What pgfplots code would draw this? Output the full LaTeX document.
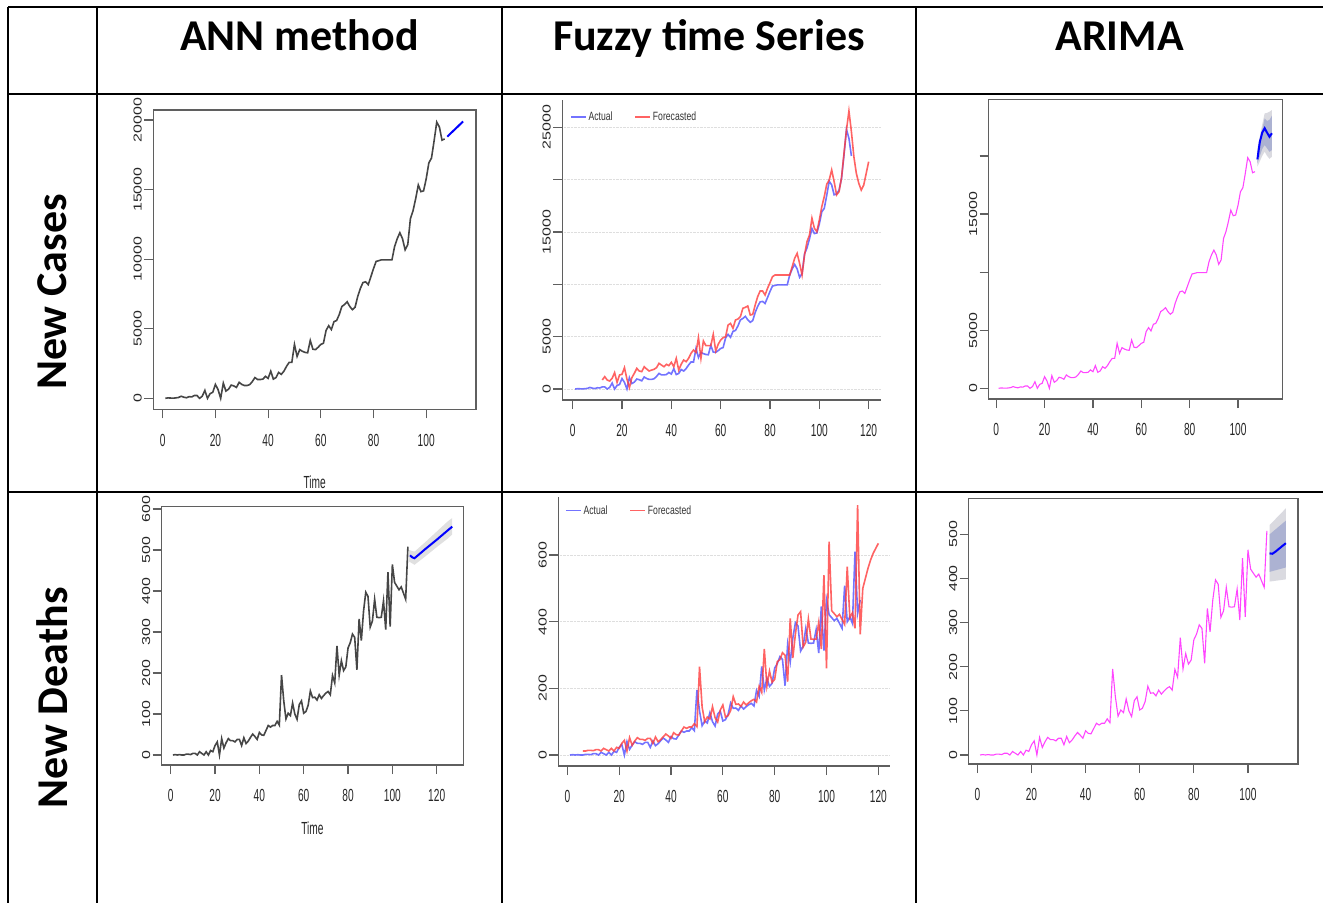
\documentclass[border=0pt]{standalone}
\usepackage{fontspec}
\setmainfont{Liberation Sans}
\newfontfamily\hdr{Carlito}
\usepackage{graphicx}
\usepackage{pgfplots}
\usepackage{pgfplotstable}
\pgfplotsset{compat=1.18}

\definecolor{axgray}{RGB}{95,95,95}
\definecolor{anngray}{RGB}{70,70,70}
\definecolor{pinkline}{RGB}{255,70,255}
\definecolor{fzblue}{RGB}{90,90,255}
\definecolor{fzred}{RGB}{255,60,60}
\definecolor{band95}{RGB}{218,218,224}
\definecolor{band80}{RGB}{172,178,210}

\newcommand\tk{\fontsize{16}{16}\selectfont}
\newcommand\tkx{\fontsize{17.5}{17.5}\selectfont}
\newcommand\hd{\hdr\bfseries\fontsize{44}{48}\selectfont}

% t, new cases, new deaths (1..107 observed; 108..113 shown only in the fuzzy panels)
\pgfplotstableread{
t cases deaths
1 0 0
2 30 1
3 20 0
4 10 1
5 30 0
6 60 0
7 150 2
8 80 2
9 40 1
10 120 4
11 100 4
12 200 0
13 200 8
14 0 4
15 150 0
16 570 8
17 0 0
18 340 11
19 430 8
20 1000 23
21 630 32
22 0 0
23 1090 40
24 520 17
25 660 30
26 950 40
27 890 35
28 780 35
29 1150 32
30 1000 38
31 920 38
32 920 23
33 980 42
34 1200 28
35 1490 34
36 1350 43
37 1350 51
38 1380 45
39 1580 38
40 1430 55
41 1950 49
42 1380 48
43 1490 60
44 1860 72
45 1720 68
46 1950 72
47 2300 72
48 2580 82
49 2580 73
50 3870 195
51 3010 132
52 3500 88
53 3380 102
54 3300 96
55 3270 127
56 4160 100
57 3530 87
58 3500 123
59 3670 132
60 3870 102
61 3960 106
62 4880 121
63 5220 156
64 4940 140
65 5510 141
66 5590 134
67 6020 147
68 6600 138
69 6740 145
70 6940 151
71 6600 155
72 6370 147
73 6540 194
74 7310 176
75 7890 266
76 8320 195
77 8370 230
78 8170 206
79 8740 215
80 9320 261
81 9840 274
82 9890 295
83 9950 287
84 9950 208
85 9950 332
86 9950 279
87 9950 351
88 10900 397
89 11470 387
90 11900 312
91 11470 327
92 10670 380
93 11040 336
94 12900 335
95 13480 336
96 14340 376
97 15330 306
98 14850 446
99 14910 313
100 15770 465
101 16920 421
102 17260 412
103 18500 403
104 19850 410
105 19500 395
106 18550 380
107 18640 508
108 19000 400
109 20130 415
110 22360 395
111 24800 610
112 23950 425
113 22260 465
}\actual

% fuzzy time series forecast, new cases
\pgfplotstableread{
t fc
12 860
13 1180
14 860
15 760
16 1020
17 1560
18 640
19 1340
20 1400
21 2040
22 950
23 130
24 1080
25 1500
26 1970
27 1720
28 1660
29 2130
30 1910
31 1720
32 1810
33 1880
34 2040
35 2450
36 2290
37 2130
38 2360
39 2230
40 2550
41 2130
42 2930
43 1810
44 2360
45 2770
46 2610
47 2930
48 3410
49 3730
50 3500
51 4900
52 2930
53 4590
54 4140
55 4140
56 4140
57 5220
58 3630
59 4270
60 4680
61 4900
62 5000
63 6110
64 6270
65 5800
66 6590
67 6690
68 6910
69 7710
70 7800
71 7930
72 7070
73 7130
74 8030
75 8820
76 9360
77 9360
78 8980
79 9620
80 10160
81 10730
82 10890
83 10890
84 10890
85 10890
86 10890
87 10890
88 10890
89 11690
90 12480
91 12960
92 12000
93 10890
94 12800
95 14080
96 14710
97 16310
98 15350
99 15030
100 16150
101 17420
102 18380
103 19560
104 19970
105 20930
106 19810
107 18540
108 18850
109 20190
110 22520
111 24750
112 26560
113 24590
114 22200
115 20600
116 19650
117 19000
118 19490
119 20600
120 21720
}\fzcases

% fuzzy time series forecast, new deaths
\pgfplotstableread{
t fd
6 12
7 12
8 14
9 14
10 13
11 16
12 16
13 12
14 20
15 16
16 12
17 20
18 12
19 23
20 20
21 35
22 44
23 12
24 52
25 29
26 42
27 52
28 47
29 47
30 44
31 50
32 50
33 35
34 54
35 40
36 46
37 55
38 63
39 57
40 50
41 67
42 61
43 60
44 72
45 84
46 80
47 84
48 84
49 94
50 85
51 265
52 144
53 100
54 114
55 108
56 145
57 112
58 99
59 135
60 150
61 114
62 118
63 133
64 175
65 152
66 153
67 146
68 159
69 150
70 157
71 163
72 167
73 159
74 206
75 188
76 318
77 207
78 252
79 218
80 227
81 280
82 286
83 307
84 299
85 220
86 410
87 291
88 363
89 420
90 430
91 324
92 339
93 408
94 348
95 347
96 348
97 398
98 318
99 540
100 260
101 640
102 433
103 424
104 415
105 422
106 407
107 392
108 565
109 412
110 427
111 380
112 750
113 362
114 500
115 530
116 560
117 585
118 605
119 620
120 635
}\fzdeaths

\pgfplotsset{
  rplot/.style={
    scale only axis, anchor=south west,
    axis line style={draw=axgray, line width=1.4pt},
    tick style={draw=axgray, line width=1.2pt},
    major tick length=9pt, tick align=outside, tick pos=left,
    scaled ticks=false,
    x tick label style={font=\tkx, xscale=0.58, yshift=-12pt, text=black!85},
    y tick label style={font=\tk, rotate=90, anchor=south, yscale=0.72, text=black!85},
    xlabel style={font=\tkx, xscale=0.58, text=black!85,
      at={(axis description cs:0.5,-0.245)}, anchor=center},
  },
  fzplot/.style={
    rplot, axis lines*=left, axis line style={-},
    ymajorgrids, major grid style={densely dotted, black!13, line width=0.9pt},
    legend columns=2,
    legend style={draw=none, fill=none, inner sep=0pt,
      font=\fontsize{12}{12}\selectfont, text=black!80,
      /tikz/every even column/.append style={column sep=20pt}},
    legend image code/.code={\draw[#1, line width=1.4pt] (0pt,0pt) -- (15pt,0pt);},
  },
}

\begin{document}
\begin{tikzpicture}[x=1pt,y=1pt]
\path[use as bounding box] (0,0) rectangle (1323,-903);

% table rules
\begin{scope}[line width=2.5pt]
\draw (8,-7) -- (1323,-7);
\draw (8,-94) -- (1323,-94);
\draw (8,-492) -- (1323,-492);
\draw (8,-7) -- (8,-903);
\draw (97,-7) -- (97,-903);
\draw (502,-7) -- (502,-903);
\draw (916,-7) -- (916,-903);
\end{scope}

\node[anchor=base, font=\hd] at (299.5,-50) {ANN method};
\node[anchor=base, font=\hd] at (709,-50) {Fuzzy time Series};
\node[anchor=base, font=\hd] at (1119.5,-50) {ARIMA};
\node[rotate=90, font=\hd] at (52,-292) {New Cases};
\node[rotate=90, font=\hd] at (52,-698) {New Deaths};

% ANN, new cases
\begin{axis}[rplot, at={(153.3pt,-409.3pt)}, width=322.7pt, height=299.3pt,
  xmin=-3.57, xmax=118.9, ymin=-790, ymax=20718,
  xtick={0,20,40,60,80,100}, xticklabels={0,20,40,60,80,100},
  ytick={0,5000,10000,15000,20000}, yticklabels={0,5000,10000,15000,20000},
  xlabel={Time}]
\addplot[anngray, line width=1.6pt, restrict x to domain=1:107] table[x=t, y=cases] {\actual};
\addplot[blue, line width=2pt] coordinates {(108,18800) (110,19170) (112,19530) (114,19900)};
\end{axis}

% Fuzzy time series, new cases
\begin{axis}[fzplot, at={(562.3pt,-400pt)}, width=318.7pt, height=300pt,
  xmin=-4.2, xmax=125, ymin=-1051, ymax=27608,
  xtick={0,20,40,60,80,100,120}, xticklabels={0,20,40,60,80,100,120},
  ytick={0,5000,10000,15000,20000,25000}, yticklabels={0,5000,,15000,,25000},
  legend style={at={(axis description cs:0.024,0.943)}, anchor=west}]
\addplot[fzblue, opacity=0.85, line width=1.6pt] table[x=t, y=cases] {\actual};
\addplot[fzred, opacity=0.8, line width=1.6pt] table[x=t, y=fc] {\fzcases};
\legend{\scalebox{0.72}[1]{Actual}, \scalebox{0.72}[1]{Forecasted}}
\end{axis}

% ARIMA, new cases
\begin{axis}[rplot, at={(988.7pt,-399pt)}, width=293.6pt, height=299.3pt,
  xmin=-3.1, xmax=118.3, ymin=-921, ymax=24836,
  xtick={0,20,40,60,80,100}, xticklabels={0,20,40,60,80,100},
  ytick={0,5000,10000,15000,20000}, yticklabels={0,5000,,15000,}]
\addplot[fill=band95, draw=none] coordinates {(108,20650) (110,22700) (111,23660) (112,23700) (113,23800) (114,23950)
  (114,19930) (113,19750) (112,20000) (111,20360) (110,20000) (108,19070)};
\addplot[fill=band80, draw=none] coordinates {(108,20350) (110,22300) (111,23230) (112,23000) (113,23100) (114,23460)
  (114,20500) (113,20350) (112,20650) (111,20935) (110,20600) (108,19350)};
\addplot[pinkline, line width=1.1pt, restrict x to domain=1:107] table[x=t, y=cases] {\actual};
\addplot[blue, line width=2pt] coordinates {(108,19700) (109,21200) (110,22000) (111,22380) (112,22000) (113,21650) (114,21950)};
\end{axis}

% ANN, new deaths
\begin{axis}[rplot, at={(161.7pt,-765pt)}, width=301.6pt, height=258.3pt,
  xmin=-4.06, xmax=132, ymin=-24.4, ymax=605.6,
  xtick={0,20,40,60,80,100,120}, xticklabels={0,20,40,60,80,100,120},
  ytick={0,100,200,300,400,500,600}, yticklabels={0,100,200,300,400,500,600},
  xlabel={Time}]
\addplot[fill=black!12, draw=none] coordinates {(107.5,500) (110,496) (115,520) (120,545) (125,570) (127,578)
  (127,538) (125,528) (120,507) (115,485) (110,464) (107.5,472)};
\addplot[anngray, line width=1.6pt, restrict x to domain=1:107] table[x=t, y=deaths] {\actual};
\addplot[blue, line width=2pt] coordinates {(108,487) (109,482) (110,480) (115,503) (120,525) (125,548) (127,557)};
\end{axis}

% Fuzzy time series, new deaths
\begin{axis}[fzplot, at={(558.3pt,-766pt)}, width=331.7pt, height=269.3pt,
  xmin=-3.5, xmax=124.5, ymin=-33, ymax=775,
  xtick={0,20,40,60,80,100,120}, xticklabels={0,20,40,60,80,100,120},
  ytick={0,200,400,600}, yticklabels={0,200,400,600},
  legend style={at={(axis description cs:0.02,0.948)}, anchor=west}]
\addplot[fzblue, opacity=0.85, line width=1.6pt] table[x=t, y=deaths] {\actual};
\addplot[fzred, opacity=0.8, line width=1.6pt] table[x=t, y=fd] {\fzdeaths};
\legend{\scalebox{0.72}[1]{Actual}, \scalebox{0.72}[1]{Forecasted}}
\end{axis}

% ARIMA, new deaths
\begin{axis}[rplot, at={(968.7pt,-764pt)}, width=329.3pt, height=265.7pt,
  xmin=-3.2, xmax=118.5, ymin=-20.4, ymax=581.7,
  xtick={0,20,40,60,80,100}, xticklabels={0,20,40,60,80,100},
  ytick={0,100,200,300,400,500}, yticklabels={0,100,200,300,400,500}]
\addplot[fill=band95, draw=none] coordinates {(108,521) (114,559) (114,398) (108,393)};
\addplot[fill=band80, draw=none] coordinates {(108,500) (114,531) (114,425) (108,415)};
\addplot[pinkline, line width=1.1pt, restrict x to domain=1:107] table[x=t, y=deaths] {\actual};
\addplot[blue, line width=2pt] coordinates {(108,457) (109,456) (110,460) (111,465) (112,470) (113,475) (114,480)};
\end{axis}
\end{tikzpicture}
\end{document}
